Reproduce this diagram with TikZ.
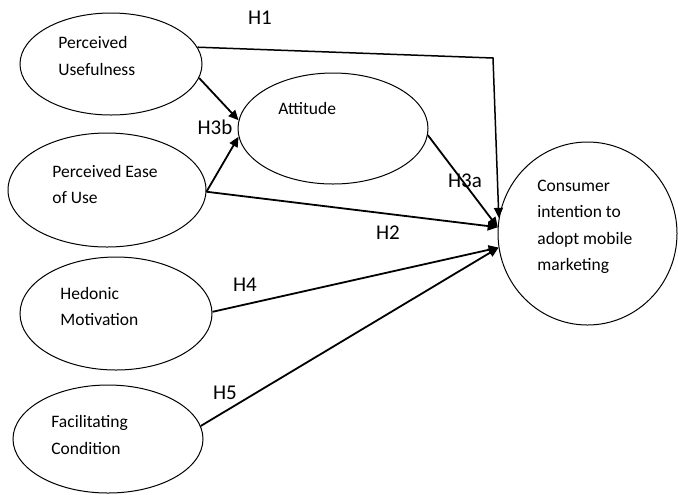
\documentclass[tikz,border=0pt]{standalone}
\usepackage{fontspec}
\setmainfont{Carlito}
\usetikzlibrary{arrows.meta,shapes.geometric}
\begin{document}
\begin{tikzpicture}[x=0.5pt,y=-0.5pt,
  construct/.style={draw,ellipse,line width=0.5pt,inner sep=0pt},
  txt/.style={anchor=west,align=left,inner sep=0pt,font=\fontsize{8.75}{13.25}\selectfont},
  hyp/.style={line width=0.9pt,-{Triangle[length=5pt,width=4.5pt]}},
  lbl/.style={inner sep=0pt,font=\fontsize{10.5}{12}\selectfont}]
 \useasboundingbox (0,0) rectangle (678,494);
 \node[construct,minimum width=91pt,minimum height=51pt] (pu) at (111,64) {};
 \node[construct,minimum width=99pt,minimum height=57pt] (pe) at (107,190) {};
 \node[construct,minimum width=96pt,minimum height=56.5pt] (hm) at (116,313.5) {};
 \node[construct,minimum width=95pt,minimum height=54pt] (fc) at (108,439) {};
 \node[construct,minimum width=95pt,minimum height=55.5pt] (att) at (333,128.5) {};
 \node[construct,minimum width=89.5pt,minimum height=91.5pt] (ci) at (587.5,233.5) {};
 \node[txt] (pu-t) at (58,56) {Perceived\\Usefulness};
 \node[txt] (pe-t) at (52,184.5) {Perceived Ease\\of Use};
 \node[txt] (hm-t) at (60,306.5) {Hedonic\\Motivation};
 \node[txt] (fc-t) at (51,435) {Facilitating\\Condition};
 \node[txt] (att-t) at (278,108) {Attitude};
 \node[txt] (ci-t) at (537,227) {Consumer\\intention to\\adopt mobile\\marketing};
 \coordinate (h1c) at (493,58);
 \draw[hyp,line width=0.75pt] (pu.11) -- (h1c) -- (ci.170);
 \draw[hyp] (pu.-9) -- (att.175);
 \draw[hyp] (pe.-1) -- (att.185);
 \draw[hyp] (pe.-1) -- (ci.176);
 \draw[hyp] (att.-4) -- (ci.176);
 \draw[hyp] (hm.1.5) -- (ci.189);
 \draw[hyp] (fc.8) -- (ci.189);
 \node[lbl] (h1) at (260,18) {H1};
 \node[lbl] (h3b) at (215,127) {H3b};
 \node[lbl] (h3a) at (465,181) {H3a};
 \node[lbl] (h2) at (388,233) {H2};
 \node[lbl] (h4) at (245,285) {H4};
 \node[lbl] (h5) at (225,393) {H5};
\end{tikzpicture}
\end{document}
